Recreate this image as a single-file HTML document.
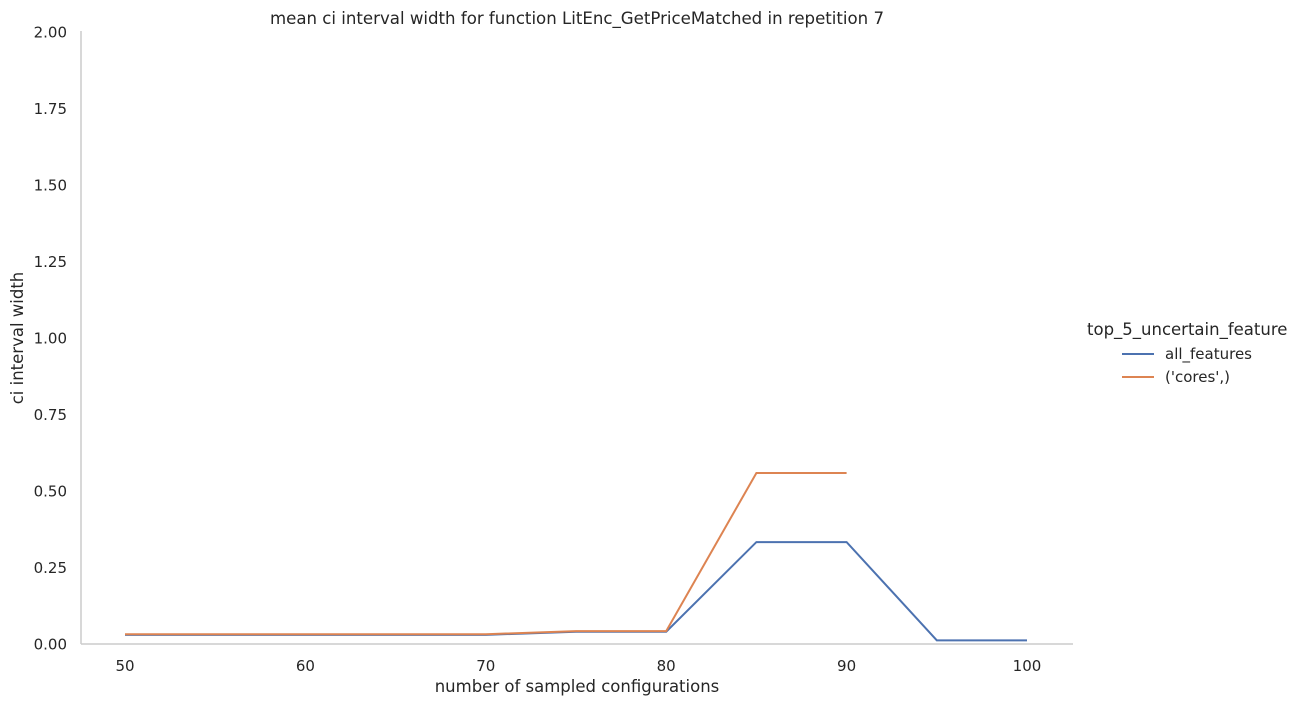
<!DOCTYPE html>
<html><head><meta charset="utf-8"><style>
body{margin:0;background:#fff;}
svg text{font-family:"DejaVu Sans","Liberation Sans",sans-serif;fill:#262626;}
</style></head><body>
<svg id="chart" width="1302" height="706">
<text x="577" y="24" font-size="16.6" text-anchor="middle">mean ci interval width for function LitEnc_GetPriceMatched in repetition 7</text>
<g id="yticks"></g><g id="xticks"></g>
<line x1="81" y1="31" x2="81" y2="644" stroke="#cccccc" stroke-width="1.5"/>
<line x1="81" y1="644" x2="1073" y2="644" stroke="#cccccc" stroke-width="1.5"/>
<text x="577" y="692" font-size="16.5" text-anchor="middle">number of sampled configurations</text>
<text transform="translate(23,338) rotate(-90)" font-size="16.5" text-anchor="middle">ci interval width</text>
<g id="series"></g>
<g>
<text x="1087" y="335" font-size="16.5">top_5_uncertain_feature</text>
<line x1="1122" y1="354" x2="1154" y2="354" stroke="#4c72b0" stroke-width="2"/>
<text x="1165" y="359" font-size="15">all_features</text>
<line x1="1122" y1="377" x2="1154" y2="377" stroke="#dd8452" stroke-width="2"/>
<text x="1165" y="382" font-size="15">('cores',)</text>
</g>
</svg>
<script>
const xCats=[50,55,60,65,70,75,80,85,90,95,100];
const allFeatures=[0.030,0.030,0.030,0.030,0.030,0.040,0.040,0.333,0.333,0.012,0.012];
const cores=[0.032,0.032,0.032,0.032,0.032,0.042,0.042,0.559,0.559];
const yTickLabels=["0.00","0.25","0.50","0.75","1.00","1.25","1.50","1.75","2.00"];
const yTickVals=[0,0.25,0.5,0.75,1,1.25,1.5,1.75,2];
const xTickVals=[50,60,70,80,90,100];
const NS="http://www.w3.org/2000/svg";
function xs(v){return 125+(v-50)*(1027-125)/50;}
function ys(v){return 644-v*306;}
const yt=document.getElementById('yticks');
yTickVals.forEach((v,i)=>{const t=document.createElementNS(NS,'text');
t.setAttribute('x',67);t.setAttribute('y',ys(v)+5.5);t.setAttribute('font-size','15');t.setAttribute('text-anchor','end');
t.textContent=yTickLabels[i];


yt.appendChild(t);});
const xt=document.getElementById('xticks');
xTickVals.forEach(v=>{const t=document.createElementNS(NS,'text');
t.setAttribute('x',xs(v));t.setAttribute('y',671);t.setAttribute('font-size','15');t.setAttribute('text-anchor','middle');
t.textContent=v;


xt.appendChild(t);});
const sg=document.getElementById('series');
function draw(vals,color,name){const p=document.createElementNS(NS,'polyline');
p.setAttribute('points',vals.map((v,i)=>xs(xCats[i])+','+ys(v)).join(' '));
p.setAttribute('fill','none');p.setAttribute('stroke',color);p.setAttribute('stroke-width','2');


sg.appendChild(p);}
draw(allFeatures,'#4c72b0','line-all-features');
draw(cores,'#dd8452','line-cores');
</script>
</body></html>
